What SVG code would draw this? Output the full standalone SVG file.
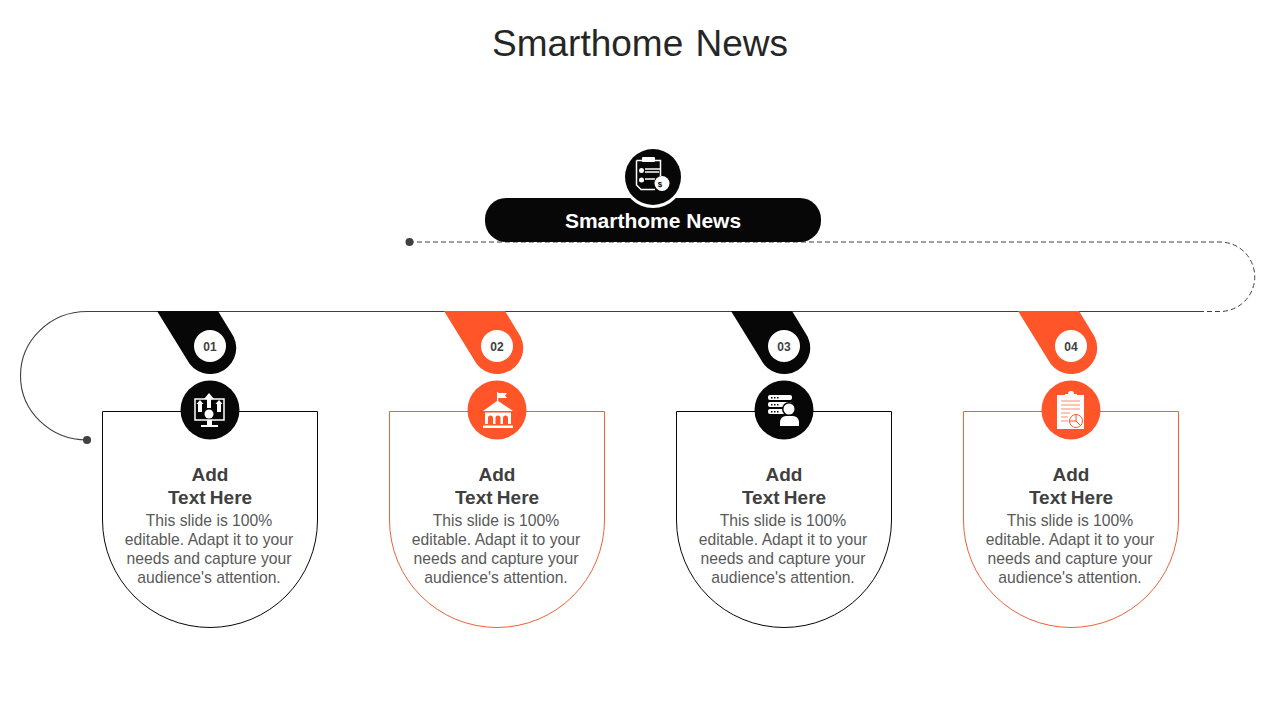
<svg xmlns="http://www.w3.org/2000/svg" width="1280" height="720" viewBox="0 0 1280 720">
<style>
text{font-family:"Liberation Sans",Arial,sans-serif;text-anchor:middle}
.title{font-size:37px;fill:#262626;word-spacing:2px}
.head{font-size:21px;font-weight:bold;fill:#fff}
.num{font-size:12px;font-weight:bold;fill:#404040}
.cap{font-size:19px;font-weight:bold;fill:#404040;word-spacing:-1px}
.body{font-size:15.7px;fill:#595959}
.k .fill{fill:#070707}.o .fill{fill:#ff5528}
.card{fill:#fff;stroke-width:1}
.k .card{stroke:#070707}.o .card{stroke:#f0603a}
.w{fill:#fff}.ws{fill:none;stroke:#fff;stroke-width:1.5}
</style>
<defs>
<path id="tab" d="M-53,-35H8L21.100,-13.500A26,26 0 1 1 -23.100,13.500Z"/>
<path id="cardshape" d="M-107.500,65.500H107.500V174A107.500,107.500 0 0 1 -107.500,174Z"/>
</defs>
<text class="title" x="640" y="56">Smarthome News</text>
<g id="connectors">
<path d="M409,242H1220A34.500,34.500 0 0 1 1220,311.500H1200" fill="none" stroke="#404040" stroke-width="1" stroke-dasharray="5 3"/>
<path d="M1200,311.500H87A66.500,64.250 0 0 0 87,440" fill="none" stroke="#404040" stroke-width="1.1"/>
<circle cx="409.500" cy="242" r="4" fill="#404040"/>
<circle cx="87" cy="440" r="4" fill="#404040"/>
</g>
<g id="header">
<rect x="485" y="198" width="336" height="44" rx="21" fill="#070707"/>
<circle cx="653" cy="177" r="31" fill="#fff"/>
<circle cx="653" cy="177" r="28" fill="#070707"/>
<path class="ws" d="M636.500,160.500H660.500V176M636.500,160.500V185L641,189.500H655" stroke-width="1.2"/>
<rect class="w" x="642" y="157" width="13" height="5" rx="1"/>
<circle class="w" cx="641.500" cy="170.500" r="2.500"/><circle class="w" cx="641.500" cy="180" r="2.500"/>
<path class="ws" d="M645,169H660M645,172H659M645,179H655"/>
<circle class="w" cx="662" cy="183.500" r="7.500"/>
<text x="660" y="187" style="font-size:8px;font-weight:bold;fill:#070707">$</text>
<text class="head" x="653" y="228">Smarthome News</text>
</g>
<g id="node-01" class="k" transform="translate(210,346)">
<use href="#cardshape" class="card"/>
<use href="#tab" class="fill"/>
<circle class="w" r="16"/>
<text class="num" y="4.500">01</text>
<circle class="fill" cy="64" r="29.500"/>
<path class="ws" d="M-15,53H14V74H-15Z" stroke-width="2"/>
<path class="w" d="M-3,74H2V79H8V81H-9V79H-3Z"/>
<path class="w" d="M-1,47L4,53H1V62H-3V53H-6ZM-10,54L-6.500,58H-8V66H-12V58H-13.500ZM9,54L12.500,58H11V66H7V58H5.500Z"/>
<circle class="w" cx="-1" cy="68" r="4.500"/>
<text x="0" y="135" class="cap">Add</text>
<text x="0" y="158" class="cap">Text Here</text>
<text class="body" x="-1" y="180">This slide is 100%</text>
<text class="body" x="-1" y="199">editable. Adapt it to your</text>
<text class="body" x="-1" y="218">needs and capture your</text>
<text class="body" x="-1" y="237">audience's attention.</text>
</g>
<g id="node-02" class="o" transform="translate(497,346)">
<use href="#cardshape" class="card"/>
<use href="#tab" class="fill"/>
<circle class="w" r="16"/>
<text class="num" y="4.500">02</text>
<circle class="fill" cy="64" r="29.500"/>
<path class="w" d="M0,46H1.200V47H10L8,49.500L10,52H1.200V55L16,65H-14L0,55Z"/>
<path class="w" d="M-12,66.500H14V78H-12Z"/>
<path class="fill" d="M-9,78V72A2.500,2.500 0 0 1 -4,72V78ZM-1.500,78V72A2.500,2.500 0 0 1 3.500,72V78ZM6,78V72A2.500,2.500 0 0 1 11,72V78Z"/>
<rect class="w" x="-14" y="79.500" width="30" height="2.500"/>
<text x="0" y="135" class="cap">Add</text>
<text x="0" y="158" class="cap">Text Here</text>
<text class="body" x="-1" y="180">This slide is 100%</text>
<text class="body" x="-1" y="199">editable. Adapt it to your</text>
<text class="body" x="-1" y="218">needs and capture your</text>
<text class="body" x="-1" y="237">audience's attention.</text>
</g>
<g id="node-03" class="k" transform="translate(784,346)">
<use href="#cardshape" class="card"/>
<use href="#tab" class="fill"/>
<circle class="w" r="16"/>
<text class="num" y="4.500">03</text>
<circle class="fill" cy="64" r="29.500"/>
<rect class="w" x="-16" y="49" width="24" height="5" rx="2"/>
<rect class="w" x="-16" y="56" width="24" height="5" rx="2"/>
<rect class="w" x="-16" y="63" width="24" height="5" rx="2"/>
<path class="fill" d="M-13,51h1.500v1.500h-1.500zM-10,51h1.500v1.500h-1.500zM-7,51h1.500v1.500h-1.500zM-13,58h1.500v1.500h-1.500zM-10,58h1.500v1.500h-1.500zM-7,58h1.500v1.500h-1.500zM-13,65h1.500v1.500h-1.500zM-10,65h1.500v1.500h-1.500zM-7,65h1.500v1.500h-1.500z"/>
<circle class="fill" cx="5" cy="63" r="7"/>
<circle class="w" cx="5" cy="63" r="5.500"/>
<path class="w" d="M-4,80V76A6,6 0 0 1 2,70H9A6,6 0 0 1 15,76V80Z"/>
<text x="0" y="135" class="cap">Add</text>
<text x="0" y="158" class="cap">Text Here</text>
<text class="body" x="-1" y="180">This slide is 100%</text>
<text class="body" x="-1" y="199">editable. Adapt it to your</text>
<text class="body" x="-1" y="218">needs and capture your</text>
<text class="body" x="-1" y="237">audience's attention.</text>
</g>
<g id="node-04" class="o" transform="translate(1071,346)">
<use href="#cardshape" class="card"/>
<use href="#tab" class="fill"/>
<circle class="w" r="16"/>
<text class="num" y="4.500">04</text>
<circle class="fill" cy="64" r="29.500"/>
<path class="w" d="M-14,49H-6V48H-3A3,3 0 0 1 3,48H6V49H13V83H-14Z"/>
<path d="M-10,55H9M-10,59H9M-10,63H9M-10,67H-1M-10,71H-3M-10,75H-3" fill="none" stroke="#ff8a6a" stroke-width="1"/>
<circle cx="5" cy="75" r="6.500" fill="none" stroke="#ff5528" stroke-width="1"/>
<path d="M5,68.500V75L9.500,79.500M5,75H-1.500" fill="none" stroke="#ff5528" stroke-width="1"/>
<text x="0" y="135" class="cap">Add</text>
<text x="0" y="158" class="cap">Text Here</text>
<text class="body" x="-1" y="180">This slide is 100%</text>
<text class="body" x="-1" y="199">editable. Adapt it to your</text>
<text class="body" x="-1" y="218">needs and capture your</text>
<text class="body" x="-1" y="237">audience's attention.</text>
</g>
</svg>
